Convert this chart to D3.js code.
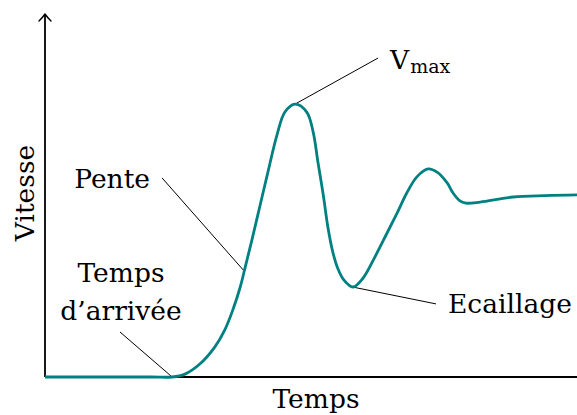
<!DOCTYPE html>
<html>
<head>
<meta charset="utf-8">
<script src="https://cdn.jsdelivr.net/npm/d3@7"></script>
<style>
  html, body { margin: 0; padding: 0; background: #fff; }
  svg { display: block; }
</style>
</head>
<body>
<svg id="chart" width="577" height="415"></svg>
<script>
// ---- Data (time in % of window, speed in % of axis height) ----
const times  = [0, 20, 23.9, 26.3, 29.1, 31.9, 33.8, 35.3, 36.7, 37.6, 38.9, 40.4, 41.9, 43.6, 45.1, 47.0,
                49.2, 50.4, 51.3, 52.3, 53.2, 54.1, 55.0, 56.2, 57.9, 59.8, 62.0, 64.3, 66.2, 68.0,
                69.9, 72.0, 73.7, 75.6, 76.7, 78.0, 79.1, 81.8, 88.0, 94.0, 100];
const speeds = [0, 0, 0, 0.8, 3.6, 8.3, 13.1, 18.6, 25.0, 30.3, 38.1, 47.5, 56.9, 67.2, 73.6, 75.8,
                73.6, 68.1, 59.7, 50.6, 41.4, 34.7, 30.3, 26.9, 25.0, 27.5, 33.3, 40.0, 45.6, 51.1,
                55.6, 57.8, 56.9, 53.9, 51.1, 48.9, 48.3, 48.6, 50.0, 50.4, 50.6];

const xLabel = "Temps";
const yLabel = "Vitesse";

// annotations: anchor point on curve, leader end
const annLabels  = ["Vmax", "Pente", "Temps d’arrivée", "Ecaillage"];
const annAnchorX = [47.0, 37.4, 23.9, 57.8];
const annAnchorY = [75.8, 29.5, 0, 25.0];
const annLeadX   = [62.6, 22.0, 14.1, 73.5];
const annLeadY   = [88.6, 55.3, 12.5, 20.3];

const FONT = "'DejaVu Serif', 'Liberation Serif', serif";
const FS = 26.5;

// ---- Layout ----
const svg = d3.select("#chart").attr("font-family", FONT);
const x = d3.scaleLinear().domain([0, 100]).range([45, 577]);
const y = d3.scaleLinear().domain([0, 100]).range([377, 17]);

// Axes
svg.append("line")
  .attr("x1", x(0)).attr("x2", x(100))
  .attr("y1", y(0)).attr("y2", y(0))
  .attr("stroke", "#000").attr("stroke-width", 1.8);
const tipY = y(100) - 3;
svg.append("line")
  .attr("x1", x(0)).attr("x2", x(0))
  .attr("y1", y(0)).attr("y2", tipY + 0.5)
  .attr("stroke", "#000").attr("stroke-width", 1.8);
svg.append("path")
  .attr("d", `M${x(0)-6},${tipY+7} Q${x(0)-2},${tipY+3} ${x(0)},${tipY} Q${x(0)+2},${tipY+3} ${x(0)+6},${tipY+7}`)
  .attr("fill", "none").attr("stroke", "#000").attr("stroke-width", 1.4)
  .attr("stroke-linecap", "round").attr("stroke-linejoin", "round");

// Axis labels
svg.append("text")
  .attr("x", 316).attr("y", 408)
  .attr("text-anchor", "middle").attr("font-size", FS)
  .text(xLabel);
svg.append("text")
  .attr("transform", "translate(34,193) rotate(-90)")
  .attr("text-anchor", "middle").attr("font-size", FS)
  .text(yLabel);

// Leader lines
annLabels.forEach((lab, i) => {
  svg.append("line")
    .attr("x1", x(annAnchorX[i])).attr("y1", y(annAnchorY[i]))
    .attr("x2", x(annLeadX[i])).attr("y2", y(annLeadY[i]))
    .attr("stroke", "#000").attr("stroke-width", 1);
});

// Curve
const pts = times.map((t, i) => [t, speeds[i]]);
const line = d3.line()
  .x(d => x(d[0])).y(d => y(d[1]))
  .curve(d3.curveCatmullRom.alpha(0.5));
svg.append("path")
  .datum(pts)
  .attr("d", line)
  .attr("fill", "none")
  .attr("stroke", "#008080")
  .attr("stroke-width", 2.8)
  .attr("stroke-linejoin", "round");

// Annotation texts
const vt = svg.append("text")
  .attr("x", x(annLeadX[0]) + 12).attr("y", y(annLeadY[0]) + 11)
  .attr("font-size", FS);
vt.append("tspan").text("V");
vt.append("tspan").attr("font-size", 19).attr("dy", 4).attr("dx", 1).text("max");

svg.append("text")
  .attr("x", x(annLeadX[1]) - 12).attr("y", y(annLeadY[1]) + 10)
  .attr("text-anchor", "end").attr("font-size", FS)
  .text("Pente");

const ta = svg.append("text")
  .attr("text-anchor", "middle").attr("font-size", FS);
ta.append("tspan").attr("x", x(annLeadX[2]) + 1).attr("y", y(annLeadY[2]) - 50).text("Temps");
ta.append("tspan").attr("x", x(annLeadX[2]) + 1).attr("y", y(annLeadY[2]) - 12).text("d’arrivée");

svg.append("text")
  .attr("x", x(annLeadX[3]) + 12).attr("y", y(annLeadY[3]) + 9)
  .attr("font-size", FS)
  .text("Ecaillage");
</script>
</body>
</html>
